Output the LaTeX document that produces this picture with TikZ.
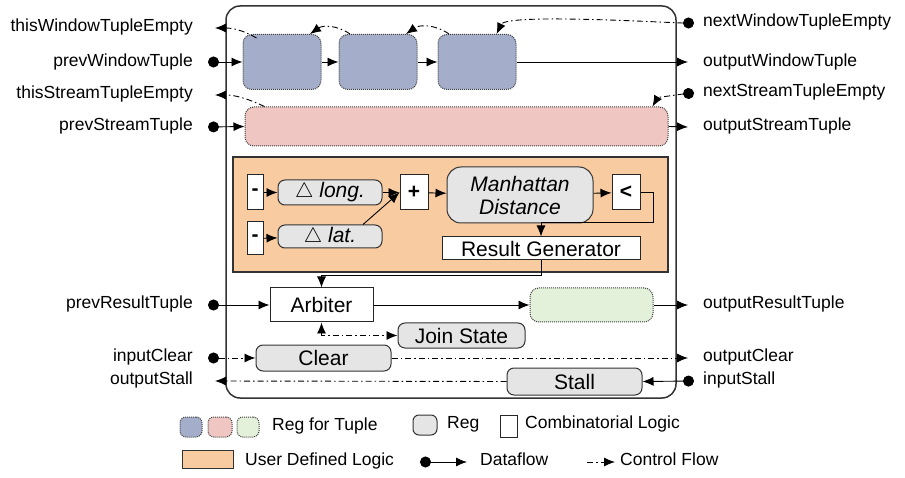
\documentclass[tikz,border=0pt]{standalone}
\usepackage{fontspec}
\setmainfont{Liberation Sans}
\usepackage[HTML]{xcolor}
\usepackage{tikz}
\usetikzlibrary{positioning, arrows, arrows.meta}

\definecolor{winblue}{HTML}{A4AECB}
\definecolor{streampink}{HTML}{EFC6C2}
\definecolor{resgreen}{HTML}{E3F0DA}
\definecolor{udlorange}{HTML}{F9CBA0}
\definecolor{reggray}{HTML}{E5E5E5}

\begin{document}
\begin{tikzpicture}[x=1pt,y=-1pt,
  tuplereg/.style={draw=black!75,densely dotted,line width=1pt,rounded corners=9pt,inner sep=0pt},
  reg/.style={draw=black!80,fill=reggray,line width=1pt,rounded corners=7pt,inner sep=0pt,font=\fontsize{21}{24}\selectfont},
  comb/.style={draw=black!85,fill=white,line width=1pt,inner sep=0pt,font=\fontsize{21}{24}\selectfont\bfseries},
  flow/.style={line width=0.9pt,-{Latex[length=11pt,width=9pt]}},
  port/.style={line width=0.9pt,{Circle[length=11pt]}-{Latex[length=11pt,width=9pt]}},
  ctrl/.style={line width=0.9pt,dash pattern=on 6pt off 3pt on 1.5pt off 3pt,-{Latex[length=11pt,width=9pt]}},
  ctrlport/.style={ctrl,{Circle[length=11pt]}-{Latex[length=11pt,width=9pt]}},
  lbl/.style={font=\fontsize{17.5}{20}\selectfont,inner sep=0pt,text height=1.45ex,text depth=.3ex},
  lgd/.style={lbl,anchor=west}]
\useasboundingbox (0,0) rectangle (905,478);

% --- outer module ---
\draw[line width=1.5pt,black!80,rounded corners=14pt] (226,6) rectangle (676,398);

% --- tuple registers ---
\foreach \i/\x in {1/282,2/378,3/477}{
  \node[tuplereg,fill=winblue,minimum width=78,minimum height=55] (w\i) at (\x,62) {};
}
\node[tuplereg,fill=streampink,minimum width=423,minimum height=39] (pink) at (456.5,126.5) {};

% --- user defined logic ---
\node[draw=black!80,line width=1.5pt,fill=udlorange,minimum width=435,minimum height=115] (udl) at (450.5,214.5) {};
\node[comb,minimum width=16,minimum height=35] (m1) at (255,192.5) {-};
\node[comb,minimum width=16,minimum height=33] (m2) at (255,238.5) {-};
\node[reg,minimum width=104,minimum height=25] (long) at (330,192.5) {$\triangle$ \itshape long.};
\node[reg,minimum width=104,minimum height=23] (lat) at (330,236.5) {$\triangle$ \itshape lat.};
\node[comb,minimum width=28,minimum height=35] (plus) at (414,192.5) {+};
\node[reg,minimum width=146,minimum height=56,rounded corners=14pt,align=center,font=\fontsize{21}{23}\selectfont\itshape] (manh) at (520,195) {Manhattan\\Distance};
\node[comb,minimum width=28,minimum height=35] (lt) at (626,192.5) {<};
\node[comb,minimum width=198,minimum height=23,font=\fontsize{21}{24}\selectfont] (resgen) at (541,248.5) {Result Generator};

% --- lower part ---
\node[comb,minimum width=103,minimum height=34,font=\fontsize{21}{24}\selectfont] (arbiter) at (321.5,305) {Arbiter};
\node[tuplereg,fill=resgreen,minimum width=123,minimum height=34] (green) at (591.5,305) {};
\node[reg,minimum width=127,minimum height=25] (join) at (461.5,335.5) {Join State};
\node[reg,minimum width=135,minimum height=26] (clear) at (323.5,358) {Clear};
\node[reg,minimum width=135,minimum height=27] (stall) at (574.5,381.5) {Stall};

% --- ports ---
\coordinate (twte) at (215,28);
\coordinate (pwt) at (208,62);
\coordinate (tste) at (215,95);
\coordinate (pst) at (208,127);
\coordinate (prt) at (208,305);
\coordinate (iclr) at (208,358);
\coordinate (ostl) at (215,381);
\coordinate (nwte) at (694,23);
\coordinate (owt) at (688,62);
\coordinate (nste) at (694,93);
\coordinate (ost) at (688,127);
\coordinate (ort) at (688,305);
\coordinate (oclr) at (688,358);
\coordinate (istl) at (694,381);

\node[lbl,anchor=east] (l1) at (193,28) {thisWindowTupleEmpty};
\node[lbl,anchor=east] (l2) at (193,63) {prevWindowTuple};
\node[lbl,anchor=east] (l3) at (193,95) {thisStreamTupleEmpty};
\node[lbl,anchor=east] (l4) at (193,127) {prevStreamTuple};
\node[lbl,anchor=east] (l5) at (193,305) {prevResultTuple};
\node[lbl,anchor=east] (l6) at (193,358) {inputClear};
\node[lbl,anchor=east] (l7) at (193,381) {outputStall};
\node[lbl,anchor=west] (r1) at (703,23) {nextWindowTupleEmpty};
\node[lbl,anchor=west] (r2) at (703,63) {outputWindowTuple};
\node[lbl,anchor=west] (r3) at (703,93) {nextStreamTupleEmpty};
\node[lbl,anchor=west] (r4) at (703,127) {outputStreamTuple};
\node[lbl,anchor=west] (r5) at (703,305) {outputResultTuple};
\node[lbl,anchor=west] (r6) at (703,358) {outputClear};
\node[lbl,anchor=west] (r7) at (703,381) {inputStall};

% --- dataflow ---
\draw[port] (pwt) -- (w1.west);
\draw[flow] (w1) -- (w2);
\draw[flow] (w2) -- (w3);
\draw[flow] (w3.east) -- (owt);
\draw[port] (pst) -- (pink.west);
\draw[flow] (pink.east) -- (ost);
\draw[flow] (m1) -- (long);
\draw[flow] (m2) -- (lat);
\draw[flow] (long) -- (plus);
\draw[flow] (lat.20) -- (plus.west);
\draw[flow] (plus) -- (manh);
\draw[flow] (manh) -- (lt);
\draw[flow] (lt.east) -- ++(13,0) -- ++(0,30) -| (resgen.north);
\draw[flow] (resgen.south) -- ++(0,15) -| (arbiter.north);
\draw[port] (prt) -- (arbiter.west);
\draw[flow] (arbiter) -- (green);
\draw[flow] (green.east) -- (ort);
\draw[port] (istl) -- (stall.east);

% --- control flow ---
\draw[ctrl] ([xshift=14pt,yshift=-4pt]w1.north west) to[out=150,in=0] (twte);
\draw[ctrl] (w2.135) to[bend right=35] (w1.45);
\draw[ctrl] (w3.135) to[bend right=35] (w2.45);
\draw[ctrlport] (nwte) to[out=180,in=65,looseness=0.3] (w3.55);
\draw[ctrl] ([xshift=20pt]pink.north west) to[out=155,in=0] (tste);
\draw[ctrlport] (nste) to[out=185,in=60,looseness=0.6] ([xshift=-16pt]pink.north east);
\draw[ctrl,{Latex[length=11pt,width=9pt]}-{Latex[length=11pt,width=9pt]}] (arbiter.south) |- (join.west);
\draw[ctrlport] (iclr) -- (clear.west);
\draw[ctrl] (clear.east) -- (oclr);
\draw[ctrl] (stall.west) -- (ostl);

% --- legend ---
\node[tuplereg,fill=winblue,minimum width=22,minimum height=20,rounded corners=6pt] (lgblue) at (191,427) {};
\node[tuplereg,fill=streampink,minimum width=24,minimum height=20,rounded corners=6pt] (lgpink) at (220,427) {};
\node[tuplereg,fill=resgreen,minimum width=22,minimum height=20,rounded corners=6pt] (lggreen) at (248,427) {};
\node[lgd] (lgtxt1) at (272,427) {Reg for Tuple};
\node[reg,minimum width=24,minimum height=20,rounded corners=6pt] (lgreg) at (425,425) {};
\node[lgd] (lgtxt2) at (447,425) {Reg};
\node[comb,minimum width=17,minimum height=22] (lgcomb) at (508.5,426) {};
\node[lgd] (lgtxt3) at (525,425) {Combinatorial Logic};
\node[draw=black!80,line width=1pt,fill=udlorange,minimum width=51,minimum height=18,inner sep=0pt] (lgudl) at (207.5,459) {};
\node[lgd] (lgtxt4) at (245,462) {User Defined Logic};
\coordinate (lgdfa) at (420,462);
\coordinate (lgdfb) at (467,462);
\draw[port] (lgdfa) -- (lgdfb);
\node[lgd] (lgtxt5) at (480,462) {Dataflow};
\coordinate (lgcfa) at (587,462);
\coordinate (lgcfb) at (615,462);
\draw[ctrl] (lgcfa) -- (lgcfb);
\node[lgd] (lgtxt6) at (620,462) {Control Flow};
\end{tikzpicture}
\end{document}
